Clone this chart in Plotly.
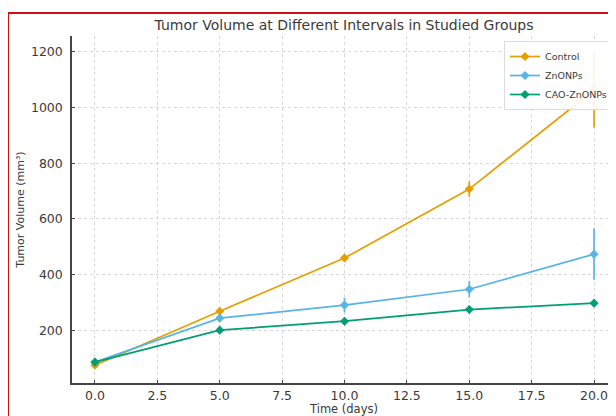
import plotly.graph_objects as go

days = [0, 5, 10, 15, 20]
control = [74, 268, 459, 707, 1063]
control_err = [8, 12, 14, 28, 135]
znonps = [85, 243, 290, 347, 473]
znonps_err = [8, 14, 26, 30, 92]
cao = [85, 200, 232, 274, 297]
cao_err = [8, 12, 14, 14, 8]

series = [
    ("Control", control, control_err, "#E69F00"),
    ("ZnONPs", znonps, znonps_err, "#56B4E9"),
    ("CAO-ZnONPs", cao, cao_err, "#009E73"),
]

fig = go.Figure()
for name, vals, errs, col in series:
    fig.add_trace(go.Scatter(
        x=days, y=vals, name=name, mode="lines+markers",
        line=dict(color=col, width=1.7),
        marker=dict(color=col, size=7, symbol="diamond"),
        error_y=dict(type="data", array=errs, visible=True, color=col,
                     thickness=1.7, width=0),
    ))

font = "DejaVu Sans, sans-serif"
W, H = 608, 408
L, T, B = 64, 28, 33
PW, PH = W - L, H - T - B
fig.update_layout(
    width=W, height=H,
    margin=dict(l=L, r=0, t=T, b=B, pad=0),
    paper_bgcolor="white", plot_bgcolor="white",
    font=dict(family=font, size=12, color="#3a3a3a"),
    title=dict(text="Tumor Volume at Different Intervals in Studied Groups",
               x=0.5, xref="paper", xanchor="center",
               y=1 - 17 / H, yanchor="middle",
               font=dict(family=font, size=14, color="#3a3a3a")),
    showlegend=True,
    legend=dict(x=(605 - L) / PW, y=(H - B - 33) / PH, xanchor="right", yanchor="top",
                bgcolor="rgba(255,255,255,0.9)", bordercolor="#dddddd",
                borderwidth=1, font=dict(size=9.5, color="#3a3a3a"),
                itemwidth=30, tracegroupgap=0),
    shapes=[dict(type="rect", xref="paper", yref="paper",
                 x0=(0 - L) / PW, x1=1.2,
                 y0=-0.3, y1=(H - B - 5) / PH,
                 line=dict(color="#CC1111", width=2), fillcolor="rgba(0,0,0,0)",
                 layer="below")],
)
fig.update_xaxes(
    range=[-0.92, 20.88], tickvals=[0, 2.5, 5, 7.5, 10, 12.5, 15, 17.5, 20],
    ticktext=["0.0", "2.5", "5.0", "7.5", "10.0", "12.5", "15.0", "17.5", "20.0"],
    showline=True, linecolor="#444444", linewidth=1.5,
    ticks="inside", ticklen=3, tickcolor="#444444",
    showgrid=True, gridcolor="#d8d8d8", griddash="dot", gridwidth=1,
    zeroline=False, tickfont=dict(size=12.5), ticklabelstandoff=0,
    title=dict(text="Time (days)", standoff=4, font=dict(size=11.5)),
)
fig.update_yaxes(
    range=[10, 1257], tickvals=[200, 400, 600, 800, 1000, 1200],
    showline=True, linecolor="#444444", linewidth=1.5,
    ticks="inside", ticklen=3, tickcolor="#444444",
    showgrid=True, gridcolor="#d8d8d8", griddash="dot", gridwidth=1,
    zeroline=False, tickfont=dict(size=12.5), ticklabelstandoff=5,
    title=dict(text="Tumor Volume (mm³)", standoff=4, font=dict(size=11)),
)

fig.write_html("out.html")
